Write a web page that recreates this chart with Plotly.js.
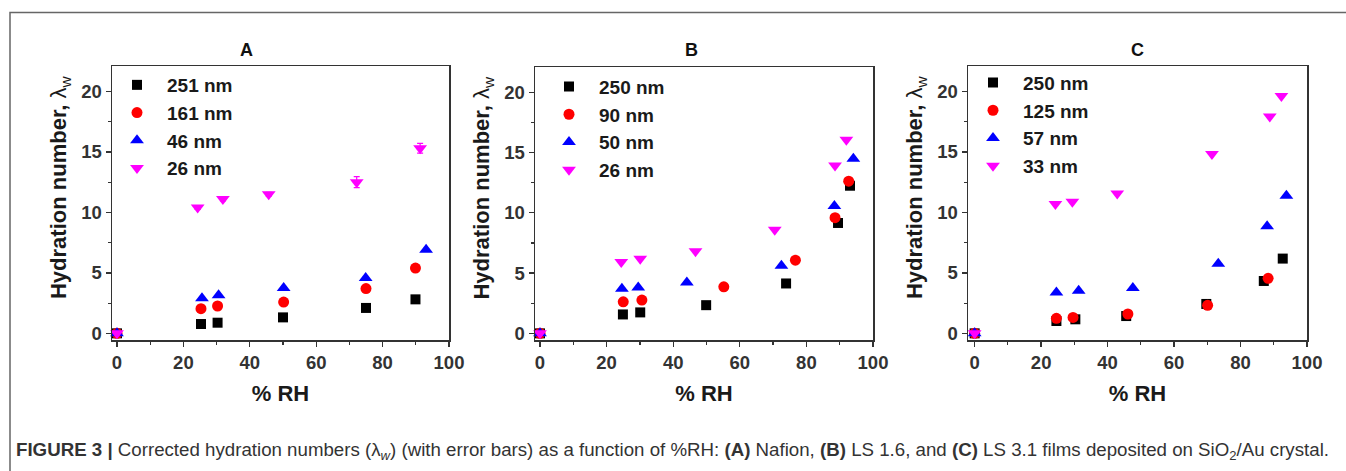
<!DOCTYPE html>
<html>
<head>
<meta charset="utf-8">
<script src="https://cdn.plot.ly/plotly-3.0.1.min.js"></script>
<style>
html,body{margin:0;padding:0;background:#fff;}
#chart{width:1346px;height:471px;}
</style>
</head>
<body>
<div id="chart"></div>
<script>
// ---------- Data ----------
// Panel A: Nafion
const A_labels = ["251 nm", "161 nm", "46 nm", "26 nm"];
const A_x251 = [0, 25.3, 30.3, 50.0, 75.0, 89.9];
const A_y251 = [0, 0.77, 0.88, 1.32, 2.10, 2.81];
const A_x161 = [0, 25.3, 30.3, 50.2, 75.0, 89.9];
const A_y161 = [0, 2.04, 2.26, 2.59, 3.70, 5.40];
const A_x46  = [0, 25.6, 30.6, 50.2, 74.9, 93.1];
const A_y46  = [0, 2.90, 3.15, 3.75, 4.58, 6.92];
const A_x26  = [0, 24.3, 31.9, 45.7, 72.2, 91.3];
const A_y26  = [0, 10.40, 11.10, 11.50, 12.50, 15.30];
const A_e26  = [0, 0.15, 0.15, 0.15, 0.45, 0.40];

// Panel B: LS 1.6
const B_labels = ["250 nm", "90 nm", "50 nm", "26 nm"];
const B_x250 = [0, 24.9, 30.1, 49.9, 73.9, 89.5, 93.1];
const B_y250 = [0, 1.57, 1.74, 2.34, 4.14, 9.16, 12.25];
const B_x90  = [0, 25.0, 30.6, 55.2, 76.7, 88.6, 92.7];
const B_y90  = [0, 2.62, 2.76, 3.86, 6.07, 9.60, 12.63];
const B_x50  = [0, 24.6, 29.5, 44.1, 72.5, 88.4, 94.1];
const B_y50  = [0, 3.70, 3.80, 4.22, 5.60, 10.56, 14.48];
const B_x26  = [0, 24.4, 30.1, 46.7, 70.5, 88.6, 92.0];
const B_y26  = [0, 5.92, 6.19, 6.82, 8.59, 13.92, 16.06];

// Panel C: LS 3.1
const C_labels = ["250 nm", "125 nm", "57 nm", "33 nm"];
const C_x250 = [0, 24.6, 30.3, 45.6, 69.7, 87.0, 92.7];
const C_y250 = [0, 1.02, 1.16, 1.43, 2.43, 4.33, 6.18];
const C_x125 = [0, 24.6, 29.6, 46.1, 70.1, 88.3];
const C_y125 = [0, 1.24, 1.32, 1.60, 2.32, 4.55];
const C_x57  = [0, 24.6, 31.3, 47.6, 73.3, 88.0, 93.8];
const C_y57  = [0, 3.38, 3.52, 3.74, 5.76, 8.85, 11.38];
const C_x33  = [0, 24.3, 29.4, 42.9, 71.4, 88.8, 92.3];
const C_y33  = [0, 10.69, 10.88, 11.57, 14.82, 17.92, 19.62];

const panelTitles = ["A", "B", "C"];
const xTitle = "% RH";
const yTitle = "Hydration number, <span style=\"font-weight:normal\">λ<sub>w</sub></span>";
const caption = "<b>FIGURE 3 |</b> Corrected hydration numbers (λ<sub><i>w</i></sub>) (with error bars) as a function of %RH: <b>(A)</b> Nafion, <b>(B)</b> LS 1.6, and <b>(C)</b> LS 3.1 films deposited on SiO<sub>2</sub>/Au crystal.";

// ---------- Styles ----------
const W = 1346, H = 471;
const FONT = "Arial, 'Liberation Sans', sans-serif";
const symbols = ["square", "circle", "triangle-up", "triangle-down"];
const colors  = ["#000000", "#ff0000", "#0000ff", "#ff00ff"];
const sizes   = [10, 11, 12, 12];

function mk(x, y, i, label, xa, ya, leg, err) {
  const t = {
    x: x, y: y, name: label, type: "scatter", mode: "markers",
    xaxis: xa, yaxis: ya, legend: leg,
    marker: {symbol: symbols[i], color: colors[i], size: sizes[i], line: {width: 0}},
    cliponaxis: false
  };
  if (err) t.error_y = {type: "data", array: err, visible: true, color: colors[i], thickness: 1.2, width: 3};
  return t;
}

const data = [
  mk(A_x251, A_y251, 0, A_labels[0], "x", "y", "legend"),
  mk(A_x161, A_y161, 1, A_labels[1], "x", "y", "legend"),
  mk(A_x46,  A_y46,  2, A_labels[2], "x", "y", "legend"),
  mk(A_x26,  A_y26,  3, A_labels[3], "x", "y", "legend", A_e26),
  mk(B_x250, B_y250, 0, B_labels[0], "x2", "y2", "legend2"),
  mk(B_x90,  B_y90,  1, B_labels[1], "x2", "y2", "legend2"),
  mk(B_x50,  B_y50,  2, B_labels[2], "x2", "y2", "legend2"),
  mk(B_x26,  B_y26,  3, B_labels[3], "x2", "y2", "legend2"),
  mk(C_x250, C_y250, 0, C_labels[0], "x3", "y3", "legend3"),
  mk(C_x125, C_y125, 1, C_labels[1], "x3", "y3", "legend3"),
  mk(C_x57,  C_y57,  2, C_labels[2], "x3", "y3", "legend3"),
  mk(C_x33,  C_y33,  3, C_labels[3], "x3", "y3", "legend3"),
];

// plot-area pixel boxes [left, right, top, bottom]
const boxes = [[112, 449, 66, 340], [535, 873, 67, 340], [968, 1307, 66, 340]];
const xr = [[-1.5, 100], [-1.5, 100], [-2, 100]];
const tickFont = {family: FONT, size: 18.5, color: "#333", weight: "bold"};
const titleFont = {family: FONT, size: 22, color: "#1a1a1a", weight: "bold"};

function xaxis(i) {
  const b = boxes[i];
  return {
    domain: [b[0] / W, b[1] / W], anchor: i === 0 ? "y" : "y" + (i + 1),
    range: xr[i], tickvals: [0, 20, 40, 60, 80, 100],
    ticks: "outside", ticklen: 5, tickwidth: 1.3, tickcolor: "#333",
    minor: {tickvals: [10, 30, 50, 70, 90], ticks: "outside", ticklen: 3, tickwidth: 1.2, tickcolor: "#333"},
    showline: true, linecolor: "#333", linewidth: 1.5, mirror: true,
    showgrid: false, zeroline: false, tickfont: tickFont,
    title: {text: xTitle, font: titleFont, standoff: 14}
  };
}
function yaxis(i) {
  const b = boxes[i];
  return {
    domain: [1 - b[3] / H, 1 - b[2] / H], anchor: i === 0 ? "x" : "x" + (i + 1),
    range: [-0.55, 22.1], tickvals: [0, 5, 10, 15, 20],
    ticks: "outside", ticklen: 5, tickwidth: 1.3, tickcolor: "#333",
    minor: {tickvals: [2.5, 7.5, 12.5, 17.5], ticks: "outside", ticklen: 3, tickwidth: 1.2, tickcolor: "#333"},
    showline: true, linecolor: "#333", linewidth: 1.5, mirror: true,
    showgrid: false, zeroline: false, tickfont: tickFont,
    title: {text: "&nbsp;&nbsp;&nbsp;&nbsp;&nbsp;" + yTitle, font: titleFont, standoff: 8}
  };
}

const legendPos = [[107, 66], [539, 67.7], [963, 63.7]];
function legend(i) {
  return {
    x: legendPos[i][0] / W, y: 1 - legendPos[i][1] / H, xanchor: "left", yanchor: "top",
    bgcolor: "rgba(0,0,0,0)", borderwidth: 0, itemwidth: 50,
    font: {family: FONT, size: 19, color: "#1a1a1a", weight: "bold"}
  };
}

const titlePos = [247, 692, 1137];
const annotations = panelTitles.map((t, i) => ({
  text: t, xref: "paper", yref: "paper", x: titlePos[i] / W, y: 1 - 50 / H,
  xanchor: "center", yanchor: "middle", showarrow: false,
  font: {family: FONT, size: 18, color: "#111", weight: "bold"}
}));
annotations.push({
  text: caption, xref: "paper", yref: "paper", x: 14 / W, y: 1 - 451 / H,
  xanchor: "left", yanchor: "middle", showarrow: false,
  font: {family: "'Liberation Sans Narrow', 'Arial Narrow', " + FONT, size: 18.7, color: "#333"}
});

const layout = {
  width: W, height: H, margin: {l: 0, r: 0, t: 0, b: 0},
  paper_bgcolor: "#fff", plot_bgcolor: "#fff", showlegend: true,
  xaxis: xaxis(0), yaxis: yaxis(0),
  xaxis2: xaxis(1), yaxis2: yaxis(1),
  xaxis3: xaxis(2), yaxis3: yaxis(2),
  legend: legend(0), legend2: legend(1), legend3: legend(2),
  annotations: annotations,
  shapes: [{type: "rect", xref: "paper", yref: "paper",
            x0: 10 / W, x1: 1360 / W, y0: 1 - 490 / H, y1: 1 - 12.5 / H,
            line: {color: "#666", width: 1.5}, fillcolor: "rgba(0,0,0,0)", layer: "below"}]
};

Plotly.newPlot("chart", data, layout, {staticPlot: true});
</script>
</body>
</html>
